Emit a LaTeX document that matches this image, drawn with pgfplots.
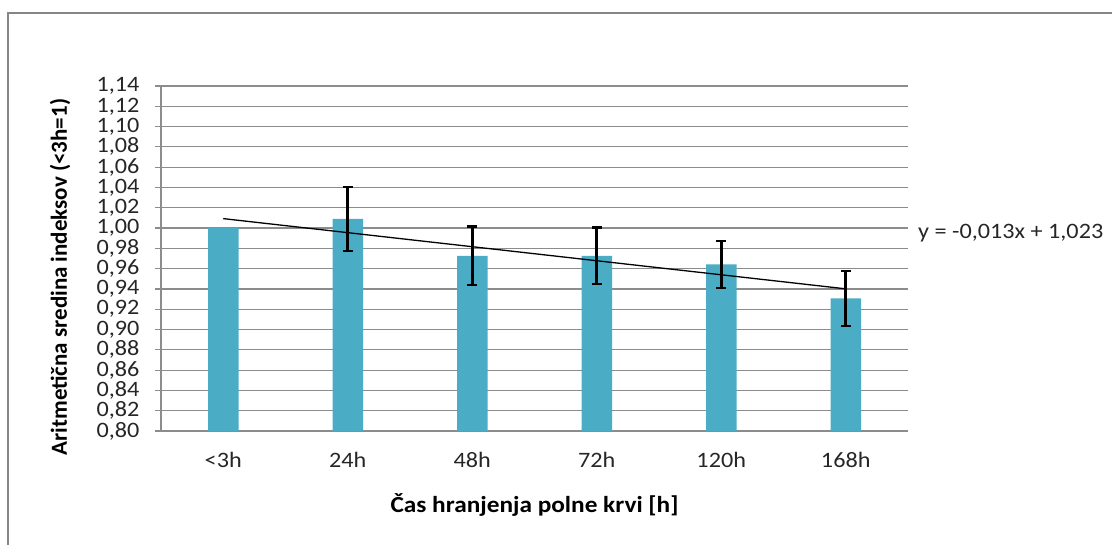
\documentclass[border=0pt]{standalone}
\usepackage{pgfplots}
\pgfplotsset{compat=1.18}
\usepackage{fontspec}
\setmainfont{Carlito}[FakeStretch=1.1]
\newfontfamily\ylfont{Carlito}
\definecolor{barc}{HTML}{4BACC6}
\definecolor{gridc}{HTML}{8C8C8C}
\definecolor{framec}{HTML}{868686}
\begin{document}
\begin{tikzpicture}[x=1pt,y=1pt]
\path[use as bounding box] (0,0) rectangle (1112,545);
\draw[framec, line width=2pt] (8,-5) -- (8,532) -- (1120,532);
\begin{axis}[
  at={(161pt,114pt)}, anchor=south west,
  scale only axis, width=747pt, height=345pt,
  xmin=0.5, xmax=6.5, ymin=0.80, ymax=1.14,
  ytick={0.80,0.82,...,1.15},
  xtick={1,2,3,4,5,6},
  xticklabels={<3h,24h,48h,72h,120h,168h},
  axis x line*=bottom, axis y line*=left,
  axis line style={gridc, line width=1.2pt, -},
  ymajorgrids, grid style={gridc, line width=1.2pt},
  major tick length=6pt,
  tick align=outside,
  ytick style={gridc, line width=1.2pt},
  xtick style={draw=none},
  /pgf/number format/.cd, fixed, fixed zerofill, precision=2, use comma, assume math mode=true,
  /pgfplots/.cd,
  tick label style={font=\fontsize{22}{22}\selectfont, text=black!85},
  yticklabel style={xshift=-12pt, inner ysep=0pt},
  xticklabel style={yshift=-12pt},
  xlabel={\textbf{Čas hranjenja polne krvi [h]}},
  xlabel style={at={(axis description cs:0.5,-0.214)}, anchor=center, font=\fontsize{23}{23}\selectfont},
  ylabel={\textbf{Aritmetična sredina indeksov (<3h=1)}},
  ylabel style={at={(axis description cs:-0.135,0.446)}, anchor=center, rotate=0, font=\ylfont\fontsize{23}{23}\selectfont},
  clip=false,
]
\addplot[ybar, bar width=30.5pt, fill=barc, draw=none]
  coordinates {
  (1,1.000)
  (2,1.009)
  (3,0.9726)
  (4,0.9726)
  (5,0.9642)
  (6,0.9307)
  };
\addplot[draw=none, mark=none,
  error bars/.cd, y dir=both, y explicit,
  error bar style={black, line width=2.6pt},
  error mark options={black, rotate=90, mark size=5pt, line width=2.4pt}]
  coordinates {
  (2,1.009) +- (0,0.0315)
  (3,0.9726) +- (0,0.029)
  (4,0.9726) +- (0,0.028)
  (5,0.9642) +- (0,0.023)
  (6,0.9307) +- (0,0.027)
  };
\addplot[black, line width=1.3pt, mark=none] coordinates {(1,1.0093) (6,0.9401)};
\node[anchor=west, inner sep=0pt, font=\fontsize{22}{22}\selectfont, text=black!85] at (axis description cs:1.0134,0.574) {y = -0,013x + 1,023};
\end{axis}
\end{tikzpicture}
\end{document}
